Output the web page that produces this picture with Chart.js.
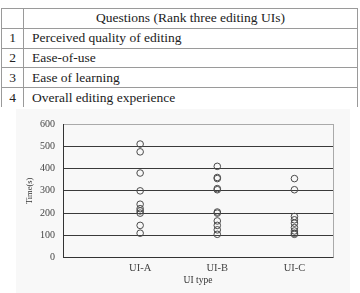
<!DOCTYPE html>
<html>
<head>
<meta charset="utf-8">
<script src="https://cdn.jsdelivr.net/npm/chart.js@4/dist/chart.umd.min.js"></script>
<style>
  body { margin: 0; width: 360px; height: 293px; background: #fff; position: relative; overflow: hidden; }
  #q { position: absolute; left: 1px; top: 8px; width: 357px; border-collapse: collapse; }
  #q tr { height: 19.8px; }
  #q td, #q th { border: 1.5px solid #9a9a9a; padding: 0; font: 13.5px "Liberation Serif", serif; font-weight: normal; color: #222; line-height: 16px; }
  #q th { text-align: center; }
  #q td:first-child, #q th:first-child { width: 21px; text-align: center; }
  #q td:last-child { padding-left: 8px; }
  #q tr:last-child td { border-bottom: none; }
  #fig { position: absolute; left: 16px; top: 109px; width: 334px; height: 184px; background: #f8f8f8; }
  #wrap { position: absolute; left: 0; top: 110px; }
</style>
</head>
<body>
<table id="q"></table>
<div id="fig"></div>
<div id="wrap"><canvas id="myChart" width="360" height="183"></canvas></div>
<script>
var questions = ['Perceived quality of editing', 'Ease-of-use', 'Ease of learning', 'Overall editing experience'];
var categories = ['UI-A', 'UI-B', 'UI-C'];
var uiA = [510, 475, 380, 300, 240, 220, 210, 200, 145, 110];
var uiB = [410, 360, 355, 310, 305, 205, 200, 165, 145, 125, 105];
var uiC = [355, 305, 185, 170, 155, 135, 120, 110, 105];
var yTicks = [0, 100, 200, 300, 400, 500, 600];

// table
var tbl = document.getElementById('q');
var html = '<tr><th></th><th>Questions (Rank three editing UIs)</th></tr>';
questions.forEach(function (q, i) {
    html += '<tr><td>' + (i + 1) + '</td><td>' + q + '</td></tr>';
});
tbl.innerHTML = html;

// chart
Chart.defaults.font.family = '"Liberation Serif", serif';
Chart.defaults.color = '#333';

var points = [];
[uiA, uiB, uiC].forEach(function (vals, i) {
    vals.forEach(function (v) { points.push({ x: i + 1, y: v }); });
});

var rightBorder = {
    id: 'rightBorder',
    beforeDatasetsDraw: function (chart) {
        var a = chart.chartArea, c = chart.ctx;
        c.save();
        c.strokeStyle = '#aaa';
        c.lineWidth = 1;
        c.beginPath();
        c.moveTo(a.right + 0.5, a.top);
        c.lineTo(a.right + 0.5, a.bottom);
        c.stroke();
        c.restore();
    }
};

var ctx = document.getElementById('myChart').getContext('2d');
var myChart = new Chart(ctx, {
    type: 'scatter',
    data: {
        datasets: [{
            data: points,
            pointRadius: 3.3,
            pointHoverRadius: 3.3,
            pointBorderWidth: 1,
            borderColor: '#4a4a4a',
            backgroundColor: 'rgba(0,0,0,0)'
        }]
    },
    options: {
        responsive: false,
        animation: false,
        maintainAspectRatio: false,
        layout: { padding: { top: 14, right: 27, left: 0, bottom: 0 } },
        plugins: { legend: { display: false }, tooltip: { enabled: false } },
        scales: {
            x: {
                type: 'linear',
                min: 0,
                max: 3.5,
                afterFit: function (s) { s.height = 35.3; },
                grid: { drawOnChartArea: false, drawTicks: false },
                border: { color: '#333', width: 1 },
                ticks: {
                    stepSize: 1,
                    padding: 4,
                    font: { size: 10.5 },
                    color: '#444',
                    maxRotation: 0,
                    callback: function (v) { return categories[v - 1] || ''; }
                },
                title: { display: true, text: 'UI type', font: { size: 9.5 }, color: '#333', padding: { top: 0, bottom: 7 } }
            },
            y: {
                min: 0,
                max: 600,
                afterFit: function (s) { s.width = 63; },
                afterBuildTicks: function (s) { s.ticks = yTicks.map(function (v) { return { value: v }; }); },
                grid: {
                    drawTicks: false,
                    color: function (c) { return c.tick && c.tick.value === 600 ? '#aaa' : '#3a3a3a'; }
                },
                border: { color: '#333', width: 1 },
                ticks: { padding: 8, font: { size: 10 }, color: '#444' },
                title: { display: true, text: 'Time(s)', font: { size: 8.5 }, color: '#333', padding: { top: 25, bottom: 0 } }
            }
        }
    },
    plugins: [rightBorder]
});
</script>
</body>
</html>
